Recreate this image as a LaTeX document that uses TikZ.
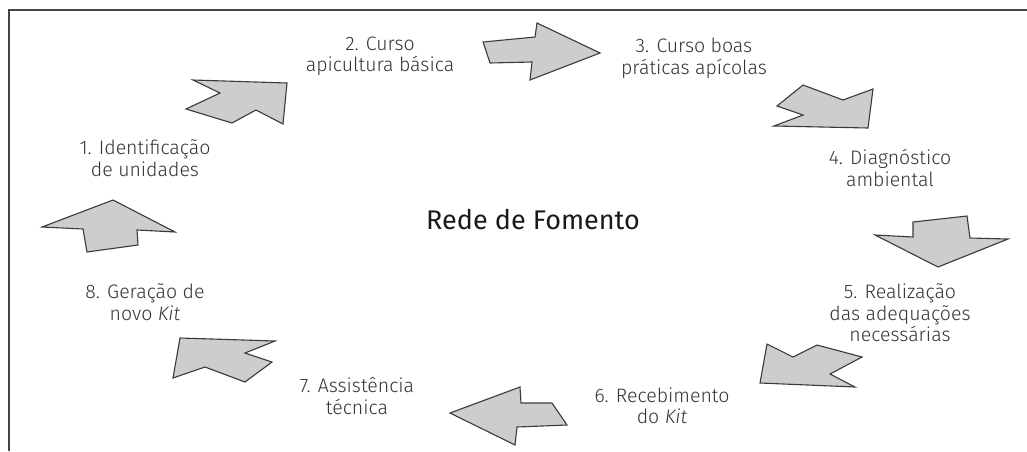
\documentclass[tikz,border=0pt]{standalone}
\usepackage{fontspec}
\setmainfont{Fira Sans}[UprightFont=* Light, ItalicFont=* Light Italic]
\newfontfamily\titlefont{Fira Sans}
\definecolor{arrowfill}{HTML}{CDCDCD}
\definecolor{arrowedge}{HTML}{3A3A3A}
\definecolor{txt}{HTML}{333333}
\definecolor{frame}{HTML}{444444}
\begin{document}
\begin{tikzpicture}[x=1pt,y=-1pt,
  blockarrow/.style={fill=arrowfill,draw=arrowedge,line width=1.1pt,line join=miter},
  stage/.style={align=center,text=txt,inner sep=0pt,font=\fontsize{19.5}{21.5}\selectfont},
  title/.style={text=black!90,inner sep=0pt,font=\titlefont\fontsize{27}{31}\selectfont}]
\useasboundingbox (0,0) rectangle (1027,451);
\draw[frame,line width=1.6pt] (9,451) -- (9,10) -- (1027,10);
% arrows
\draw[blockarrow] (193,80) -- (287,83) -- (283,124) -- (256,110) -- (232,123) -- (186,109) -- (220,93) -- cycle;
\draw[blockarrow] (483,42) -- (535,37) -- (537,23) -- (600,53) -- (530,80) -- (532,62) -- (490,63) -- cycle;
\draw[blockarrow] (777,106) -- (803,85) -- (843,100) -- (873,89) -- (868,128) -- (774,126) -- (803,115) -- cycle;
\draw[blockarrow] (875,235) -- (913,237) -- (913,222) -- (967,216) -- (970,238) -- (1008,239) -- (938,267) -- cycle;
\draw[blockarrow] (767,344) -- (793,357) -- (817,345) -- (862,357) -- (830,374) -- (855,387) -- (760,383) -- cycle;
\draw[blockarrow] (450,413) -- (520,387) -- (521,403) -- (552,403) -- (567,425) -- (517,427) -- (515,445) -- cycle;
\draw[blockarrow] (180,338) -- (275,341) -- (245,353) -- (272,362) -- (245,382) -- (205,367) -- (173,378) -- cycle;
\draw[blockarrow] (113,200) -- (175,232) -- (137,230) -- (138,245) -- (87,252) -- (83,229) -- (42,227) -- cycle;
% labels
\node[stage] (s1) at (145,158) {1. Identificação\\de unidades};
\node[stage] (s2) at (380,56) {2. Curso\\apicultura básica};
\node[stage] (s3) at (694,58) {3. Curso boas\\práticas apícolas};
\node[stage] (s4) at (890,168) {4. Diagnóstico\\ambiental};
\node[stage] (s5) at (900,313) {5. Realização\\das adequações\\necessárias};
\node[stage] (s6) at (662,406) {6. Recebimento\\do \textit{Kit}};
\node[stage] (s7) at (357,396) {7. Assistência\\técnica};
\node[stage] (s8) at (145,302) {8. Geração de\\novo \textit{Kit}};
\node[title] (center) at (533,220) {Rede de Fomento};
\end{tikzpicture}
\end{document}
